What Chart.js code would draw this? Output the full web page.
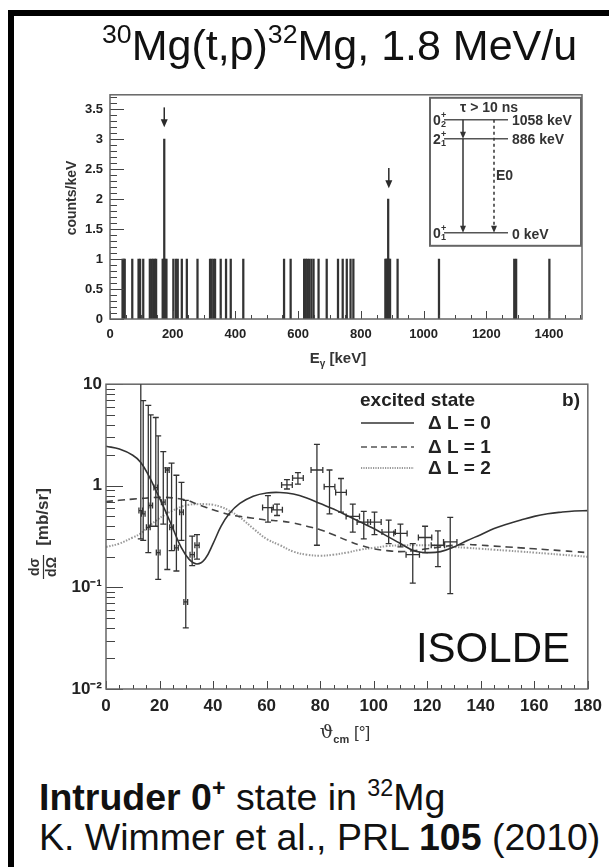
<!DOCTYPE html>
<html>
<head>
<meta charset="utf-8">
<title>32Mg intruder state</title>
<script src="https://cdn.jsdelivr.net/npm/chart.js@4.4.1/dist/chart.umd.min.js"></script>
<style>
  html, body { margin: 0; padding: 0; background: #fff; }
  body { position: relative; width: 609px; height: 867px; overflow: hidden;
         font-family: "Liberation Sans", Arial, Helvetica, sans-serif; color: #111; }
  canvas { position: absolute; left: 0; }
  .rule { position: absolute; background: #000; }
  .txt { position: absolute; white-space: nowrap; line-height: 1; }
  .txt sup { font-size: 62%; vertical-align: 0.62em; line-height: 0; }
</style>
</head>
<body>
<canvas id="spec" width="609" height="290" style="top:80px"></canvas>
<canvas id="xsec" width="609" height="380" style="top:370px"></canvas>

<div class="rule" style="left:8px; top:10px; width:6px; height:857px"></div>
<div class="rule" style="left:8px; top:10px; width:601px; height:6px"></div>

<div class="txt" style="left:102px; top:24px; font-size:43px"><sup>30</sup>Mg(t,p)<sup>32</sup>Mg, 1.8 MeV/u</div>
<div class="txt" style="right:39px; top:627px; font-size:42px">ISOLDE</div>
<div class="txt" style="left:39px; top:777px; font-size:37.5px; line-height:40px">
  <b>Intruder 0<sup>+</sup></b> state in <sup>32</sup>Mg<br>K. Wimmer et al., PRL <b>105</b> (2010)
</div>

<script>
// gamma spectrum (keV, counts/keV)
const gammaEnergy = [40, 44, 47, 71, 91, 96, 106, 127, 133, 138,
                     143, 147, 168, 171, 173, 176, 180, 202, 210, 216,
                     229, 245, 279, 319, 324, 330, 335, 353, 370, 385,
                     425, 555, 576, 619, 624, 629, 635, 642, 649, 665,
                     691, 727, 742, 755, 767, 776, 878, 881, 884, 887,
                     890, 893, 917, 1049, 1289, 1295, 1401];
const gammaCounts = [1, 1, 1, 1, 1, 1, 1, 1, 1, 1,
                     1, 1, 1, 1, 3, 1, 1, 1, 1, 1,
                     1, 1, 1, 1, 1, 1, 1, 1, 1, 1,
                     1, 1, 1, 1, 1, 1, 1, 1, 1, 1,
                     1, 1, 1, 1, 1, 1, 1, 1, 1, 2,
                     1, 1, 1, 1, 1, 1, 1];
const energyLabels = [0, 200, 400, 600, 800, 1000, 1200, 1400];
const countLabels = [0, 0.5, 1, 1.5, 2, 2.5, 3, 3.5];
// arrows marking the 173 and 886 keV lines
const arrowEnergy = [173, 889];
const arrowFrom = [3.53, 2.52];
const arrowTo = [3.2, 2.18];

// angular distribution, measured points
const angle    = [13.0, 13.9, 15.8, 16.7, 18.6, 19.5, 21.4, 22.9, 24.5, 26.3,
                  28.2, 29.8, 32.2, 34.0, 60.5, 63.9, 67.6, 71.7, 78.8, 83.5,
                  87.8, 92.2, 96.3, 100.3, 105.6, 110.0, 114.6, 119.2, 124.0, 128.6];
const angleErr = [0.7, 0.7, 0.7, 0.7, 0.7, 0.7, 0.7, 0.7, 0.7, 0.7,
                  0.7, 0.7, 0.8, 0.8, 2.0, 2.0, 2.0, 2.0, 2.2, 2.0,
                  2.0, 2.5, 2.5, 2.5, 2.5, 2.5, 2.5, 2.5, 2.5, 2.5];
const xsec     = [0.57, 0.53, 0.39, 0.64, 0.96, 0.22, 0.69, 1.43, 0.39, 0.245,
                  0.55, 0.072, 0.21, 0.26, 0.61, 0.58, 1.02, 1.19, 1.43, 0.98,
                  0.86, 0.50, 0.44, 0.44, 0.35, 0.34, 0.21, 0.31, 0.26, 0.28];
const xsecHi   = [15, 6.9, 6.2, 5.0, 4.7, 3.1, 2.17, 1.5, 1.67, 1.27,
                  1.08, 0.72, 0.32, 0.33, 0.80, 0.66, 1.15, 1.35, 2.56, 1.43,
                  1.18, 0.66, 0.56, 0.55, 0.46, 0.42, 0.27, 0.40, 0.36, 0.49];
const xsecLo   = [0.30, 0.29, 0.22, 0.40, 0.40, 0.12, 0.42, 0.15, 0.23, 0.145,
                  0.29, 0.040, 0.164, 0.19, 0.44, 0.51, 0.93, 1.04, 0.26, 0.53,
                  0.55, 0.35, 0.30, 0.33, 0.27, 0.25, 0.11, 0.22, 0.16, 0.087];

// DWBA curves
const thetaCurve = [0, 5, 10, 13, 16, 19, 22, 25, 28, 31,
                    34, 37, 40, 43, 46, 50, 55, 60, 65, 70,
                    75, 80, 85, 90, 95, 100, 105, 110, 115, 120,
                    125, 130, 135, 140, 145, 150, 155, 160, 165, 170,
                    175, 180];
const dL0 = [2.45, 2.3, 2.0, 1.7, 1.25, 0.86, 0.58, 0.38, 0.25, 0.19,
             0.17, 0.19, 0.27, 0.40, 0.53, 0.67, 0.79, 0.85, 0.86, 0.83,
             0.76, 0.67, 0.59, 0.51, 0.44, 0.38, 0.32, 0.27, 0.23, 0.22,
             0.225, 0.25, 0.29, 0.33, 0.38, 0.42, 0.46, 0.50, 0.53, 0.55,
             0.565, 0.57];
const dL1 = [0.70, 0.72, 0.74, 0.75, 0.76, 0.77, 0.77, 0.76, 0.74, 0.71,
             0.66, 0.62, 0.58, 0.55, 0.52, 0.50, 0.48, 0.46, 0.45, 0.43,
             0.40, 0.37, 0.33, 0.29, 0.26, 0.24, 0.23, 0.225, 0.23, 0.24,
             0.25, 0.26, 0.265, 0.26, 0.255, 0.25, 0.245, 0.24, 0.235, 0.23,
             0.225, 0.22];
const dL2 = [0.25, 0.27, 0.31, 0.34, 0.40, 0.46, 0.52, 0.57, 0.62, 0.65,
             0.66, 0.66, 0.65, 0.62, 0.57, 0.49, 0.38, 0.30, 0.26, 0.225,
             0.21, 0.205, 0.21, 0.22, 0.235, 0.245, 0.255, 0.26, 0.26, 0.26,
             0.255, 0.25, 0.245, 0.24, 0.235, 0.23, 0.225, 0.22, 0.215, 0.21,
             0.205, 0.20];
const thetaLabels = [0, 20, 40, 60, 80, 100, 120, 140, 160, 180];
const xsecLabels = [0.01, 0.1, 1, 10];
const xsecLabelText = ['10\u207B\u00B2', '10\u207B\u00B9', '1', '10'];

const FONT = '"Liberation Sans", Arial, Helvetica, sans-serif';
const INK = '#2a2a2a';

function range(from, to, step) {
    const out = [];
    for (let v = from; v <= to + 1e-9; v += step) out.push(Math.round(v * 1000) / 1000);
    return out;
}

// ROOT style frame with ticks pointing inwards
function rootFrame(xMajor, xMinor, yMajor, yMinor, lens) {
    return {
        id: 'rootFrame',
        afterDatasetsDraw(chart) {
            const { ctx, chartArea: a, scales: { x, y } } = chart;
            ctx.save();
            ctx.strokeStyle = '#444';
            ctx.lineWidth = 1;
            ctx.beginPath();
            const xt = (list, len) => list.forEach(v => {
                const p = Math.round(x.getPixelForValue(v)) + 0.5;
                ctx.moveTo(p, a.bottom); ctx.lineTo(p, a.bottom - len);
            });
            const yt = (list, len) => list.forEach(v => {
                const p = Math.round(y.getPixelForValue(v)) + 0.5;
                ctx.moveTo(a.left, p); ctx.lineTo(a.left + len, p);
            });
            xt(xMajor, lens[0]); xt(xMinor, lens[1]);
            yt(yMajor, lens[2]); yt(yMinor, lens[3]);
            ctx.stroke();
            ctx.strokeStyle = '#666';
            ctx.lineWidth = 1.5;
            ctx.strokeRect(a.left, a.top, a.right - a.left, a.bottom - a.top);
            ctx.restore();
        }
    };
}

function arrowHead(ctx, x, y, w, h) {
    ctx.beginPath();
    ctx.moveTo(x, y);
    ctx.lineTo(x - w, y - h);
    ctx.lineTo(x + w, y - h);
    ctx.closePath();
    ctx.fill();
}

// ---------------- top panel ----------------
const specDecor = {
    id: 'specDecor',
    afterDatasetsDraw(chart) {
        const { ctx, chartArea: a, scales: { x, y } } = chart;
        ctx.save();
        ctx.strokeStyle = INK; ctx.fillStyle = INK; ctx.lineWidth = 1.5;
        // peak arrows
        arrowEnergy.forEach((e, i) => {
            const px = x.getPixelForValue(e);
            const y0 = y.getPixelForValue(arrowFrom[i]), y1 = y.getPixelForValue(arrowTo[i]);
            ctx.beginPath(); ctx.moveTo(px, y0); ctx.lineTo(px, y1 - 5); ctx.stroke();
            arrowHead(ctx, px, y1, 3.5, 8);
        });

        // level scheme inset
        const L = a.right - 152, R = a.right - 1, T = a.top + 3, B = a.top + 151;
        ctx.fillStyle = '#fff';
        ctx.fillRect(L, T, R - L, B - T);
        ctx.strokeStyle = '#666'; ctx.lineWidth = 2;
        ctx.strokeRect(L, T, R - L, B - T);

        const lx0 = a.right - 138, lx1 = a.right - 74;
        const lv = [a.top + 25, a.top + 44, a.top + 138];
        ctx.strokeStyle = '#555'; ctx.lineWidth = 1.5;
        ctx.beginPath();
        lv.forEach(v => { ctx.moveTo(lx0, v); ctx.lineTo(lx1, v); });
        ctx.stroke();

        ctx.fillStyle = '#333'; ctx.strokeStyle = '#333';
        const sx = a.right - 119;
        ctx.lineWidth = 1.5;
        ctx.beginPath();
        ctx.moveTo(sx, lv[0]); ctx.lineTo(sx, lv[1] - 6);
        ctx.moveTo(sx, lv[1]); ctx.lineTo(sx, lv[2] - 6);
        ctx.stroke();
        arrowHead(ctx, sx, lv[1], 3, 7);
        arrowHead(ctx, sx, lv[2], 3, 7);
        const dx = a.right - 88;
        ctx.setLineDash([3, 3]);
        ctx.beginPath(); ctx.moveTo(dx, lv[0]); ctx.lineTo(dx, lv[2] - 6); ctx.stroke();
        ctx.setLineDash([]);
        arrowHead(ctx, dx, lv[2], 3, 7);

        ctx.textBaseline = 'middle';
        ctx.font = 'bold 14px ' + FONT;
        ctx.textAlign = 'center';
        ctx.fillText('\u03C4 > 10 ns', a.right - 93, a.top + 13);
        ctx.textAlign = 'left';
        ctx.fillText('1058 keV', a.right - 70, lv[0] + 1);
        ctx.fillText('886 keV', a.right - 70, lv[1] + 1);
        ctx.fillText('0 keV', a.right - 70, lv[2] + 2);
        ctx.fillText('E0', a.right - 86, a.top + 81);
        const spin = [['0', '2'], ['2', '1'], ['0', '1']];
        spin.forEach((s, i) => {
            const bx = a.right - 149;
            ctx.font = 'bold 14px ' + FONT;
            ctx.fillText(s[0], bx, lv[i] + 1);
            ctx.font = 'bold 9px ' + FONT;
            ctx.fillText('+', bx + 8, lv[i] - 4);
            ctx.fillText(s[1], bx + 8, lv[i] + 5);
        });

        // axis titles
        ctx.fillStyle = '#333';
        ctx.font = 'bold 14px ' + FONT;
        ctx.save();
        ctx.translate(72, 118);
        ctx.rotate(-Math.PI / 2);
        ctx.textAlign = 'center';
        ctx.fillText('counts/keV', 0, 0);
        ctx.restore();

        ctx.textBaseline = 'alphabetic';
        ctx.textAlign = 'left';
        ctx.font = 'bold 15px ' + FONT;
        const wE = ctx.measureText('E').width;
        const wK = ctx.measureText(' [keV]').width;
        ctx.font = 'bold 10px ' + FONT;
        const wG = ctx.measureText('\u03B3').width;
        let tx = 338 - (wE + wG + wK) / 2;
        const ty = 283;
        ctx.font = 'bold 15px ' + FONT;
        ctx.fillText('E', tx, ty); tx += wE;
        ctx.font = 'bold 10px ' + FONT;
        ctx.fillText('\u03B3', tx, ty + 4); tx += wG;
        ctx.font = 'bold 15px ' + FONT;
        ctx.fillText(' [keV]', tx, ty);
        ctx.restore();
    }
};

new Chart(document.getElementById('spec'), {
    type: 'bar',
    data: {
        datasets: [{
            data: gammaEnergy.map((e, i) => ({ x: e, y: gammaCounts[i] })),
            backgroundColor: '#333',
            borderWidth: 0,
            barThickness: 1.6
        }]
    },
    options: {
        responsive: false,
        animation: false,
        devicePixelRatio: 1,
        layout: { padding: { left: 0, right: 27, top: 7, bottom: 0 } },
        plugins: { legend: { display: false }, tooltip: { enabled: false } },
        scales: {
            x: {
                type: 'linear', min: 0, max: 1505, offset: false,
                afterBuildTicks: s => { s.ticks = energyLabels.map(v => ({ value: v })); },
                afterFit: s => { s.height = 51; },
                grid: { display: false, drawTicks: false }, border: { display: false },
                ticks: { padding: 8, color: '#222', autoSkip: false, maxRotation: 0,
                         callback: v => String(v),
                         font: { family: FONT, size: 13, weight: 'bold' } }
            },
            y: {
                min: 0, max: 3.74,
                afterBuildTicks: s => { s.ticks = countLabels.map(v => ({ value: v })); },
                afterFit: s => { s.width = 110; },
                grid: { display: false, drawTicks: false }, border: { display: false },
                ticks: { padding: 7, color: '#222', callback: v => String(v),
                         font: { family: FONT, size: 13, weight: 'bold' } }
            }
        }
    },
    plugins: [
        rootFrame(energyLabels, range(50, 1500, 50).filter(v => v % 200 !== 0),
                  countLabels, range(0.1, 3.7, 0.1).filter(v => Math.round(v * 10) % 5 !== 0),
                  [8, 4, 14, 7]),
        specDecor
    ]
});

// ---------------- bottom panel ----------------
const logMinor = [];
[0.01, 0.1, 1].forEach(d => { for (let k = 2; k <= 9; k++) logMinor.push(d * k); });

const xsecDecor = {
    id: 'xsecDecor',
    afterDatasetsDraw(chart) {
        const { ctx, chartArea: a, scales: { x, y } } = chart;
        ctx.save();
        // error bars
        ctx.save();
        ctx.beginPath(); ctx.rect(a.left, a.top, a.right - a.left, a.bottom - a.top); ctx.clip();
        ctx.strokeStyle = '#333'; ctx.lineWidth = 1.3;
        ctx.beginPath();
        angle.forEach((t, i) => {
            const px = x.getPixelForValue(t), py = y.getPixelForValue(xsec[i]);
            const x0 = x.getPixelForValue(t - angleErr[i]), x1 = x.getPixelForValue(t + angleErr[i]);
            const yh = y.getPixelForValue(xsecHi[i]), yl = y.getPixelForValue(xsecLo[i]);
            ctx.moveTo(x0, py); ctx.lineTo(x1, py);
            ctx.moveTo(x0, py - 3); ctx.lineTo(x0, py + 3);
            ctx.moveTo(x1, py - 3); ctx.lineTo(x1, py + 3);
            ctx.moveTo(px, yh); ctx.lineTo(px, yl);
            ctx.moveTo(px - 3, yh); ctx.lineTo(px + 3, yh);
            ctx.moveTo(px - 3, yl); ctx.lineTo(px + 3, yl);
        });
        ctx.stroke();
        ctx.restore();

        // legend
        ctx.fillStyle = '#222';
        ctx.font = 'bold 19px ' + FONT;
        ctx.textBaseline = 'alphabetic';
        ctx.fillText('excited state', 360, 36);
        ctx.textAlign = 'right';
        ctx.fillText('b)', 580, 36);
        ctx.textAlign = 'left';
        ctx.textBaseline = 'middle';
        const rows = [
            { y: 53, dash: [], color: '#333', w: 1.5, text: '\u0394 L = 0' },
            { y: 77, dash: [6, 4], color: '#555', w: 1.5, text: '\u0394 L = 1' },
            { y: 98, dash: [1.2, 1.2], color: '#333', w: 1, text: '\u0394 L = 2' }
        ];
        rows.forEach(r => {
            ctx.strokeStyle = r.color; ctx.lineWidth = r.w; ctx.setLineDash(r.dash);
            ctx.beginPath(); ctx.moveTo(361, r.y); ctx.lineTo(414, r.y); ctx.stroke();
            ctx.setLineDash([]);
            ctx.fillText(r.text, 428, r.y + 1);
        });

        // x title: theta_cm [deg]
        ctx.textBaseline = 'alphabetic';
        ctx.fillStyle = '#333';
        ctx.font = '19px "DejaVu Serif", serif';
        const wT = ctx.measureText('\u03D1').width;
        ctx.font = 'bold 11px ' + FONT;
        const wC = ctx.measureText('cm').width;
        ctx.font = '17px ' + FONT;
        const wB = ctx.measureText(' [\u00B0]').width;
        let tx = 345 - (wT + wC + wB) / 2;
        ctx.font = '19px "DejaVu Serif", serif';
        ctx.fillText('\u03D1', tx, 368); tx += wT;
        ctx.font = 'bold 11px ' + FONT;
        ctx.fillText('cm', tx, 373); tx += wC;
        ctx.font = '17px ' + FONT;
        ctx.fillText(' [\u00B0]', tx, 368);

        // y title: d sigma / d Omega [mb/sr]
        ctx.save();
        ctx.translate(43, 0);
        ctx.rotate(-Math.PI / 2);
        ctx.textAlign = 'center';
        ctx.textBaseline = 'middle';
        ctx.font = 'bold 17px ' + FONT;
        ctx.fillText('[mb/sr]', -147, 0);
        ctx.font = 'bold 14px ' + FONT;
        ctx.fillText('d\u03C3', -197, -8);
        ctx.fillText('d\u03A9', -197, 9);
        ctx.strokeStyle = '#333'; ctx.lineWidth = 1.2;
        ctx.beginPath(); ctx.moveTo(-209, 0.5); ctx.lineTo(-185, 0.5); ctx.stroke();
        ctx.restore();
        ctx.restore();
    }
};

const curveStyle = { showLine: true, pointRadius: 0, tension: 0.4, fill: false };

new Chart(document.getElementById('xsec'), {
    type: 'scatter',
    data: {
        datasets: [
            Object.assign({ label: '\u0394L = 0', data: thetaCurve.map((t, i) => ({ x: t, y: dL0[i] })),
                            borderColor: '#333', borderWidth: 1.6 }, curveStyle),
            Object.assign({ label: '\u0394L = 1', data: thetaCurve.map((t, i) => ({ x: t, y: dL1[i] })),
                            borderColor: '#444', borderWidth: 1.6, borderDash: [7, 5] }, curveStyle),
            Object.assign({ label: '\u0394L = 2', data: thetaCurve.map((t, i) => ({ x: t, y: dL2[i] })),
                            borderColor: '#999', borderWidth: 2, borderDash: [1.5, 1.5] }, curveStyle),
            { label: 'data', data: angle.map((t, i) => ({ x: t, y: xsec[i] })), pointRadius: 0, showLine: false }
        ]
    },
    options: {
        responsive: false,
        animation: false,
        devicePixelRatio: 1,
        layout: { padding: { left: 0, right: 20, top: 13, bottom: 0 } },
        plugins: { legend: { display: false }, tooltip: { enabled: false } },
        scales: {
            x: {
                type: 'linear', min: 0, max: 180,
                afterBuildTicks: s => { s.ticks = thetaLabels.map(v => ({ value: v })); },
                afterFit: s => { s.height = 61; },
                grid: { display: false, drawTicks: false }, border: { display: false },
                ticks: { padding: 7, color: '#222', autoSkip: false, maxRotation: 0,
                         callback: v => String(v),
                         font: { family: FONT, size: 17, weight: 'bold' } }
            },
            y: {
                type: 'logarithmic', min: 0.01, max: 10,
                afterBuildTicks: s => { s.ticks = xsecLabels.map(v => ({ value: v })); },
                afterFit: s => { s.width = 106; },
                grid: { display: false, drawTicks: false }, border: { display: false },
                ticks: { padding: 4, color: '#222', autoSkip: false,
                         callback: (v, i) => xsecLabelText[i],
                         font: { family: FONT, size: 17, weight: 'bold' } }
            }
        }
    },
    plugins: [
        rootFrame(thetaLabels, range(5, 175, 5).filter(v => v % 20 !== 0),
                  xsecLabels, logMinor, [8, 4, 17, 9]),
        xsecDecor
    ]
});
</script>
</body>
</html>
